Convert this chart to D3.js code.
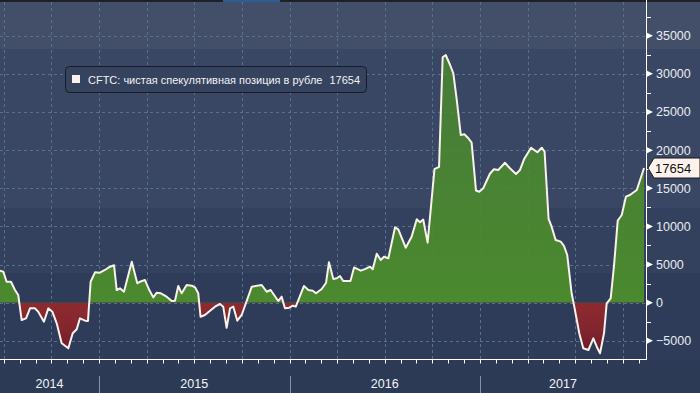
<!DOCTYPE html>
<html><head><meta charset="utf-8">
<script src="https://cdn.jsdelivr.net/npm/d3@7"></script>
<style>html,body{margin:0;padding:0;background:#2d3a56;overflow:hidden}</style>
</head><body>
<svg id="chart" width="700" height="393"></svg>
<script>
// Weekly CFTC net speculative position in RUB futures (dates as decimal years)
const dates = [2014.480,2014.498,2014.515,2014.538,2014.559,2014.576,2014.594,2014.617,2014.638,2014.664,
2014.681,2014.711,2014.734,2014.755,2014.778,2014.804,2014.839,2014.862,2014.883,2014.900,
2014.927,2014.942,2014.956,2014.979,2015.005,2015.031,2015.058,2015.079,2015.093,2015.110,
2015.131,2015.172,2015.201,2015.215,2015.241,2015.264,2015.285,2015.303,2015.325,2015.355,
2015.382,2015.399,2015.416,2015.434,2015.460,2015.487,2015.504,2015.521,2015.533,2015.556,
2015.583,2015.609,2015.635,2015.652,2015.670,2015.688,2015.705,2015.726,2015.749,2015.802,
2015.854,2015.880,2015.901,2015.941,2015.959,2015.976,2015.999,2016.017,2016.033,2016.076,
2016.099,2016.122,2016.139,2016.169,2016.192,2016.207,2016.230,2016.248,2016.265,2016.282,
2016.320,2016.339,2016.374,2016.396,2016.423,2016.437,2016.458,2016.479,2016.496,2016.519,
2016.554,2016.571,2016.610,2016.641,2016.668,2016.685,2016.702,2016.725,2016.761,2016.785,
2016.804,2016.820,2016.843,2016.860,2016.878,2016.899,2016.918,2016.939,2016.956,2016.979,
2016.996,2017.017,2017.052,2017.073,2017.096,2017.131,2017.157,2017.189,2017.210,2017.231,
2017.268,2017.301,2017.324,2017.339,2017.360,2017.376,2017.397,2017.424,2017.441,2017.458,
2017.481,2017.495,2017.521,2017.542,2017.569,2017.595,2017.613,2017.630,2017.651,2017.665,
2017.686,2017.703,2017.723,2017.744,2017.766,2017.787,2017.823,2017.861];
const values = [4200,4060,2750,2750,1660,1010,-2270,-2050,-740,-740,
-1180,-2490,-740,-1180,-2700,-5320,-5980,-4010,-3490,-2050,
-2360,-2400,2750,3980,3930,4290,4720,4900,1660,1890,
1440,5380,2540,2750,2980,1660,700,1310,1230,790,
220,260,2190,1230,2320,2230,2020,1230,-1840,-1610,
-1050,-520,-170,-520,-3280,-740,-520,-2360,-1610,2100,
2320,1440,1660,220,790,-740,-650,-390,-520,2190,
1660,1570,1230,1800,2620,5300,3110,3200,3500,2840,
2840,4620,4200,4400,4720,4380,6420,5600,6030,5820,
9880,9620,7210,8650,10930,10550,10900,7870,17500,17800,
32170,32470,31160,30070,26580,21990,22080,21560,20980,14700,
14550,15000,16900,17490,17400,18350,17620,16870,17400,18800,
20320,19720,20320,19800,11000,9960,8220,8000,7430,6250,
1230,-520,-4010,-5980,-6200,-4670,-5770,-6630,-4010,-80,
580,4720,10750,11500,13900,14120,14780,17654];
const yTicks = [-5000,0,5000,10000,15000,20000,25000,30000,35000];
const yMinorTicks = [-2500,2500,7500,12500,17500,22500,27500,32500,37500];
const years = [2014,2015,2016,2017];
const legendLabel = "CFTC: чистая спекулятивная позиция в рубле";
const lastValue = 17654;

const data = dates.map((t,i)=>({t, v: values[i]}));

const W = 700, H = 393, plotR = 646, plotB = 359.5;
const svg = d3.select("#chart");
const font = "'Liberation Sans', Arial, sans-serif";

const x = d3.scaleLinear().domain([2014.4803, 2017.8714]).range([0, plotR]);
const y = d3.scaleLinear().domain([0, 35000]).range([302.7, 35.7]);

// background bands
const bands = [[0,49,"#434f69"],[49,208,"#3a4764"],[208,273,"#34415e"],[273,360,"#2f3c59"],[360,393,"#2d3a56"]];
svg.selectAll("rect.band").data(bands).join("rect").attr("class","band")
  .attr("x",0).attr("width",W).attr("y",d=>d[0]).attr("height",d=>d[1]-d[0]).attr("fill",d=>d[2]);

// top strip
svg.append("rect").attr("x",0).attr("y",0).attr("width",W).attr("height",2).attr("fill","#1d2128");
svg.append("rect").attr("x",223).attr("y",0).attr("width",57).attr("height",2).attr("fill","#2f5e93");

// grid
const grid = svg.append("g").attr("stroke","#55718d").attr("stroke-dasharray","3,3").attr("stroke-width",1);
grid.selectAll("line.h").data(yTicks).join("line").attr("class","h")
  .attr("x1",0).attr("x2",plotR).attr("y1",d=>Math.round(y(d))+0.5).attr("y2",d=>Math.round(y(d))+0.5);
const quarters = d3.range(2014.5, 2017.80, 0.25);
grid.selectAll("line.v").data(quarters).join("line").attr("class","v")
  .attr("y1",2).attr("y2",plotB).attr("x1",d=>Math.round(x(d))+0.5).attr("x2",d=>Math.round(x(d))+0.5);

// gradients
const defs = svg.append("defs");
const gG = defs.append("linearGradient").attr("id","gGreen").attr("gradientUnits","userSpaceOnUse")
  .attr("x1",0).attr("x2",0).attr("y1",y(0)).attr("y2",y(35000));
gG.append("stop").attr("offset",0).attr("stop-color","#4b8b2d").attr("stop-opacity",0.98);
gG.append("stop").attr("offset",0.55).attr("stop-color","#4b8b2d").attr("stop-opacity",0.85);
gG.append("stop").attr("offset",1).attr("stop-color","#4b8b2d").attr("stop-opacity",0.75);
const gR = defs.append("linearGradient").attr("id","gRed").attr("gradientUnits","userSpaceOnUse")
  .attr("x1",0).attr("x2",0).attr("y1",y(0)).attr("y2",y(-7000));
gR.append("stop").attr("offset",0).attr("stop-color","#8d2a2e");
gR.append("stop").attr("offset",0.45).attr("stop-color","#84262e");
gR.append("stop").attr("offset",1).attr("stop-color","#67192a");

defs.append("clipPath").attr("id","cPos").append("rect")
  .attr("x",0).attr("y",0).attr("width",plotR).attr("height",y(0));
defs.append("clipPath").attr("id","cNeg").append("rect")
  .attr("x",0).attr("y",y(0)).attr("width",plotR).attr("height",plotB-y(0));

const area = d3.area().x(d=>x(d.t)).y0(y(0)).y1(d=>y(d.v));
svg.append("path").datum(data).attr("d",area).attr("fill","url(#gGreen)").attr("clip-path","url(#cPos)");
svg.append("path").datum(data).attr("d",area).attr("fill","url(#gRed)").attr("clip-path","url(#cNeg)");

const line = d3.line().x(d=>x(d.t)).y(d=>y(d.v));
svg.append("path").datum(data).attr("d",line).attr("fill","none")
  .attr("stroke","#f9f1ea").attr("stroke-width",2).attr("stroke-linejoin","round");

// right axis
const ax = svg.append("g");
ax.append("line").attr("x1",plotR+0.5).attr("x2",plotR+0.5).attr("y1",0).attr("y2",plotB).attr("stroke","#ffffff");
ax.selectAll("line.mn").data(yMinorTicks).join("line").attr("class","mn")
  .attr("x1",plotR).attr("x2",plotR+5).attr("y1",d=>Math.round(y(d))+0.5).attr("y2",d=>Math.round(y(d))+0.5)
  .attr("stroke","#ffffff");
ax.selectAll("path.mj").data(yTicks).join("path").attr("class","mj")
  .attr("d",d=>{const t=y(d);return `M${plotR},${t-3.5}L${plotR+7},${t}L${plotR},${t+3.5}Z`;})
  .attr("fill","#ffffff");
ax.selectAll("text").data(yTicks).join("text")
  .attr("x",plotR+10).attr("y",d=>y(d)).attr("dy","0.36em")
  .attr("fill","#e8ebf1").attr("font-family",font).attr("font-size",12.5)
  .text(d=>d<0?"\u2212"+Math.abs(d):d);

// bottom axis
const bx = svg.append("g");
bx.append("line").attr("x1",0).attr("x2",plotR+1).attr("y1",plotB).attr("y2",plotB).attr("stroke","#ffffff");
const months = d3.range(0, 41).map(i=>2014.5 + i/12).filter(m=>x(m)<=plotR);
bx.selectAll("line.m").data(months).join("line").attr("class","m")
  .attr("x1",d=>Math.round(x(d))+0.5).attr("x2",d=>Math.round(x(d))+0.5)
  .attr("y1",plotB).attr("y2",plotB+4).attr("stroke","#ffffff");
bx.selectAll("line.sep").data(years.slice(1)).join("line").attr("class","sep")
  .attr("x1",d=>Math.round(x(d))+0.5).attr("x2",d=>Math.round(x(d))+0.5)
  .attr("y1",376).attr("y2",H).attr("stroke","#8691a5");
bx.selectAll("text").data(years).join("text")
  .attr("x",d=>(Math.max(0,x(d))+Math.min(plotR,x(d+1)))/2).attr("y",388)
  .attr("text-anchor","middle").attr("fill","#f2f4f8").attr("font-family",font).attr("font-size",12.5)
  .text(d=>d);

// legend
const lg = svg.append("g");
lg.append("rect").attr("x",65.5).attr("y",66.5).attr("width",301).attr("height",26).attr("rx",4)
  .attr("fill","#36435f").attr("stroke","#151b28");
lg.append("rect").attr("x",72).attr("y",75).attr("width",8).attr("height",8).attr("fill","#fdf0ea");
const lt = lg.append("text").attr("x",88).attr("y",84).attr("fill","#f2f2f2")
  .attr("font-family",font).attr("font-size",11);
lt.append("tspan").text(legendLabel);
lt.append("tspan").attr("dx",7).text(lastValue);
const tl = lt.node().getComputedTextLength();
lt.attr("textLength",272).attr("lengthAdjust","spacingAndGlyphs");

// last value flag
const yv = y(lastValue);
svg.append("path").attr("d",`M${plotR+2},${yv}L${plotR+8},${yv-10}L${W},${yv-10}L${W},${yv+10}L${plotR+8},${yv+10}Z`)
  .attr("fill","#fdf2ec").attr("stroke","#1a1a1a");
svg.append("text").attr("x",plotR+9).attr("y",yv).attr("dy","0.36em").attr("fill","#111")
  .attr("font-family",font).attr("font-size",13).text(lastValue);
</script>
</body></html>
